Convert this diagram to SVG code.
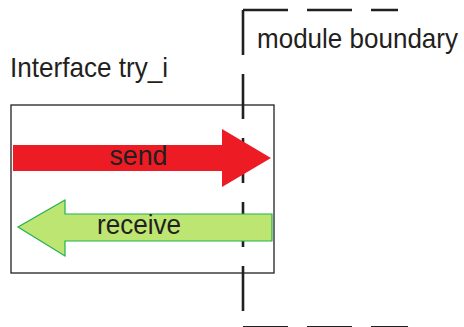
<svg xmlns="http://www.w3.org/2000/svg" width="464" height="327" viewBox="0 0 464 327">
<style>
text{font-family:"Liberation Sans",Arial,sans-serif;font-size:28px;fill:#231f20}
.bnd{stroke:#231f20;stroke-width:2.6;stroke-dasharray:45 19;fill:none}
</style>
<rect width="464" height="327" fill="#ffffff"/>
<g id="interface">
<rect x="11" y="105" width="263" height="168" fill="none" stroke="#231f20" stroke-width="1.3"/>
<text x="10" y="77" textLength="158" lengthAdjust="spacingAndGlyphs">Interface try_i</text>
</g>
<g id="boundary">
<line class="bnd" x1="243" y1="10" x2="398" y2="10"/>
<line class="bnd" x1="243" y1="10" x2="243" y2="312"/>
<line class="bnd" x1="243" y1="327.3" x2="408" y2="327.3"/>
<text x="257" y="48" textLength="201" lengthAdjust="spacingAndGlyphs">module boundary</text>
</g>
<g id="connectors">
<g id="send">
<polygon points="13,145 222,145 222,129 271,158 222,187 222,171 13,171" fill="#ed1c24"/>
<text x="109.5" y="165" textLength="58" lengthAdjust="spacingAndGlyphs">send</text>
</g>
<g id="receive">
<polygon points="272,214 272,241 65,241 65,256 18,227 65,200 65,214" fill="#bde572" stroke="#22b14c" stroke-width="1.2"/>
<text x="97" y="233.5" textLength="84" lengthAdjust="spacingAndGlyphs">receive</text>
</g>
</g>
</svg>
